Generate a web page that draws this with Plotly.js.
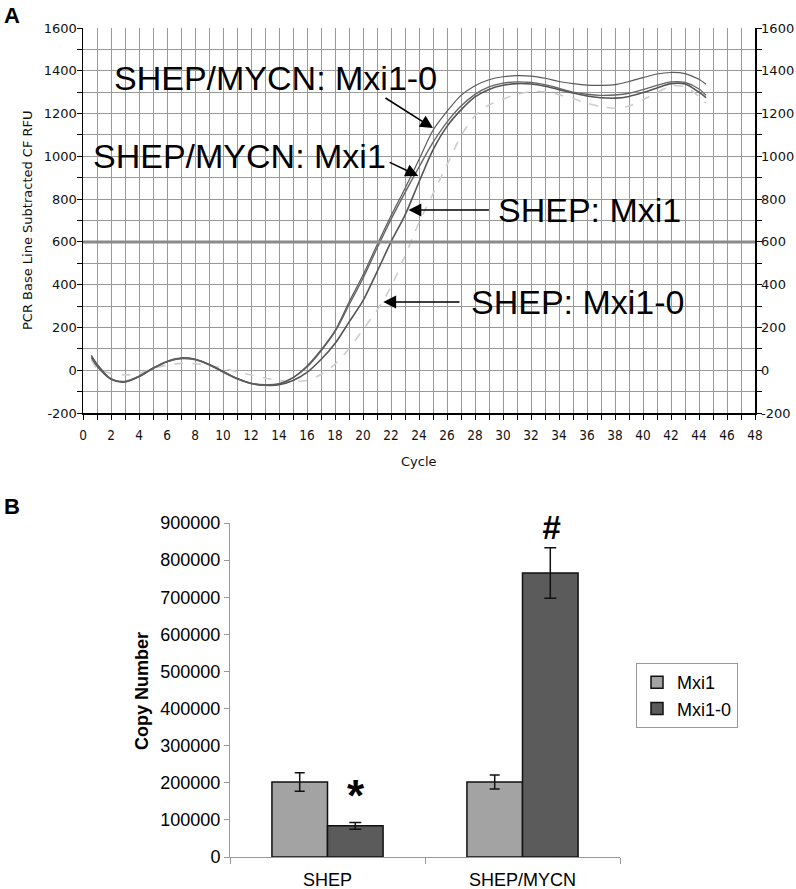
<!DOCTYPE html>
<html>
<head>
<meta charset="utf-8">
<script src="https://cdn.plot.ly/plotly-3.0.1.min.js"></script>
<style>html,body{margin:0;padding:0;background:#fff;}#chart{width:796px;height:889px;}</style>
</head>
<body>
<div id="chart"></div>
<script>
// ---- Panel A data: PCR amplification curves ----
const cycles = [0.6,1,2,3,4,5,6,7,8,9,10,11,12,13,14,15,16,17,18,19,20,21,22,23,24,25,26,27,28,29,30,31,32,33,34,35,36,37,38,39,40,41,42,43,44,44.5];
const mycnMxi10 = [70,30,-40,-55,-30,10,42,58,52,28,-5,-38,-62,-70,-65,-35,20,95,185,318,445,585,722,850,985,1122,1210,1285,1330,1358,1372,1377,1375,1365,1350,1340,1333,1332,1335,1350,1368,1385,1392,1387,1360,1337];
const mycnMxi1  = [65,25,-40,-52,-28,10,40,55,50,27,-5,-38,-60,-68,-63,-35,15,90,180,305,430,570,705,830,950,1065,1160,1235,1290,1325,1342,1348,1345,1335,1318,1300,1290,1285,1287,1295,1312,1332,1348,1345,1315,1285];
const shepMxi1  = [60,20,-42,-55,-30,8,40,55,50,26,-8,-40,-62,-70,-68,-48,-10,50,125,225,325,460,600,725,880,1030,1140,1217,1278,1313,1332,1340,1338,1328,1312,1296,1282,1274,1272,1280,1298,1320,1340,1338,1300,1275];
const shepMxi10 = [50,10,-15,-22,-15,8,24,32,31,23,10,-8,-22,-36,-48,-52,-48,-20,28,100,190,280,390,535,690,825,960,1095,1190,1240,1268,1290,1302,1302,1288,1270,1248,1232,1225,1235,1265,1298,1328,1325,1280,1248];
const threshold = 600;
const cycleRange = [0, 48];
const rfuRange = [-200, 1600];
const rfuTickVals = [-200, 0, 200, 400, 600, 800, 1000, 1200, 1400, 1600];
const rfuTickText = ['-200', '0', '200', '400', '600', '800', '1000', '1200', '1400', '1600'];

// ---- Panel B data: copy numbers ----
const groups = ["SHEP", "SHEP/MYCN"];
const mxi1Copies = [202000, 202000];
const mxi1Err = [25000, 19000];
const mxi10Copies = [84000, 765000];
const mxi10Err = [9000, 68000];

const W = 796, H = 889;
const px = v => v / W;
const py = v => 1 - v / H;

const gridCol = '#9a9a9a';
const tickFontY = {family: 'DejaVu Sans', size: 13, color: '#111'};
const tickFontX = {family: 'DejaVu Sans Condensed, DejaVu Sans', size: 13.5, color: '#111'};

const lineTrace = (y, color, width, dash) => ({
  x: cycles, y: y, type: 'scatter', mode: 'lines', xaxis: 'x', yaxis: 'y',
  line: {color: color, width: width, dash: dash || 'solid', shape: 'spline', smoothing: 0.8},
  showlegend: false, hoverinfo: 'skip'
});

const traces = [
  lineTrace(shepMxi10, '#cdcdcd', 1.6, 'dash'),
  lineTrace(shepMxi1, '#555555', 1.6),
  lineTrace(mycnMxi1, '#666666', 1.4),
  lineTrace(mycnMxi10, '#5a5a5a', 1.2),
  {x: cycleRange, y: [threshold, threshold], type: 'scatter', mode: 'lines', xaxis: 'x', yaxis: 'y3',
   line: {color: '#8c8c8c', width: 3}, showlegend: false, hoverinfo: 'skip'},
  {x: groups, y: mxi1Copies, name: 'Mxi1', type: 'bar', xaxis: 'x2', yaxis: 'y2',
   marker: {color: '#a3a3a3', line: {color: '#111', width: 1.5}},
   error_y: {type: 'data', array: mxi1Err, visible: true, color: '#111', thickness: 1.5, width: 5}},
  {x: groups, y: mxi10Copies, name: 'Mxi1-0', type: 'bar', xaxis: 'x2', yaxis: 'y2',
   marker: {color: '#5b5b5b', line: {color: '#111', width: 1.5}},
   error_y: {type: 'data', array: mxi10Err, visible: true, color: '#111', thickness: 1.5, width: 6}}
];

const bigFont = {family: 'Liberation Sans, Arial', size: 34, color: '#000'};
const arrowStyle = {showarrow: true, arrowhead: 2, arrowsize: 1.6, arrowwidth: 1.6, arrowcolor: '#000',
  xref: 'x', yref: 'y', axref: 'x', ayref: 'y', text: ''};

const annotations = [
  {text: '<b>A</b>', xref: 'paper', yref: 'paper', x: px(2), y: py(15), xanchor: 'left', yanchor: 'middle', showarrow: false,
   font: {family: 'Liberation Sans, Arial', size: 22, color: '#000'}},
  {text: '<b>B</b>', xref: 'paper', yref: 'paper', x: px(2), y: py(506), xanchor: 'left', yanchor: 'middle', showarrow: false,
   font: {family: 'Liberation Sans, Arial', size: 22, color: '#000'}},
  // axis titles panel A
  {text: 'PCR Base Line Subtracted CF RFU', xref: 'paper', yref: 'paper', x: px(27), y: py(220), textangle: -90,
   xanchor: 'center', yanchor: 'middle', showarrow: false, font: {family: 'DejaVu Sans', size: 13, color: '#111'}},
  {text: 'Cycle', xref: 'paper', yref: 'paper', x: px(419), y: py(461), xanchor: 'center', yanchor: 'middle', showarrow: false,
   font: {family: 'DejaVu Sans', size: 13, color: '#111'}},
  // curve labels
  {text: 'SHEP/MYCN: Mxi1-0', xref: 'paper', yref: 'paper', x: px(112), y: py(78), xanchor: 'left', yanchor: 'middle', showarrow: false, font: bigFont},
  {text: 'SHEP/MYCN: Mxi1', xref: 'paper', yref: 'paper', x: px(91), y: py(156), xanchor: 'left', yanchor: 'middle', showarrow: false, font: bigFont},
  {text: 'SHEP: Mxi1', xref: 'paper', yref: 'paper', x: px(496), y: py(210), xanchor: 'left', yanchor: 'middle', showarrow: false, font: bigFont},
  {text: 'SHEP: Mxi1-0', xref: 'paper', yref: 'paper', x: px(469), y: py(302), xanchor: 'left', yanchor: 'middle', showarrow: false, font: bigFont},
  // arrows (head at x,y ; tail at ax,ay)
  Object.assign({x: 25.0, y: 1132, ax: 21.5, ay: 1277}, arrowStyle),
  Object.assign({x: 23.95, y: 908, ax: 21.8, ay: 975}, arrowStyle),
  Object.assign({x: 23.25, y: 749, ax: 29.1, ay: 749}, arrowStyle),
  Object.assign({x: 21.45, y: 319, ax: 27.0, ay: 319}, arrowStyle),
  // panel B
  {text: '<b>Copy Number</b>', xref: 'paper', yref: 'paper', x: px(142), y: py(691), textangle: -90,
   xanchor: 'center', yanchor: 'middle', showarrow: false, font: {family: 'Liberation Sans, Arial', size: 18, color: '#000'}},
  {text: '<b>*</b>', xref: 'paper', yref: 'paper', x: px(356), y: py(795), xanchor: 'center', yanchor: 'middle', showarrow: false,
   font: {family: 'Liberation Sans, Arial', size: 44, color: '#000'}},
  {text: '<b><i>#</i></b>', xref: 'paper', yref: 'paper', x: px(551), y: py(527), xanchor: 'center', yanchor: 'middle', showarrow: false,
   font: {family: 'Liberation Sans, Arial', size: 33, color: '#000'}}
];

const layout = {
  width: W, height: H,
  margin: {l: 0, r: 0, t: 0, b: 0},
  paper_bgcolor: '#fff', plot_bgcolor: '#fff',
  barmode: 'group', bargap: 0.43, bargroupgap: 0,
  showlegend: true,
  legend: {x: px(636), y: py(663), xanchor: 'left', yanchor: 'top', bgcolor: '#fff', bordercolor: '#999', borderwidth: 1,
           font: {family: 'Liberation Sans, Arial', size: 18, color: '#000'}, itemwidth: 30, tracegroupgap: 0},
  xaxis: {domain: [px(83), px(755)], anchor: 'y', range: cycleRange, tick0: 0, dtick: 2,
          ticks: 'outside', ticklen: 5, tickcolor: '#000', tickwidth: 1, ticklabelstandoff: 4,
          showgrid: true, gridcolor: gridCol, gridwidth: 1, zeroline: false,
          showline: true, linecolor: '#000', linewidth: 1.5, tickfont: tickFontX, automargin: false,
          minor: {dtick: 1, tick0: 0, ticks: 'outside', ticklen: 5, tickcolor: '#000', showgrid: true, gridcolor: gridCol, gridwidth: 1}},
  yaxis: {domain: [py(413), py(28)], anchor: 'x', range: rfuRange, tickmode: 'array', tickvals: rfuTickVals, ticktext: rfuTickText,
          ticks: 'outside', ticklen: 5, tickcolor: '#000', ticklabelstandoff: -3,
          showgrid: true, gridcolor: gridCol, gridwidth: 1, zeroline: false,
          showline: true, linecolor: '#000', linewidth: 1.5, tickfont: tickFontY, automargin: false,
          minor: {dtick: 100, tick0: 0, ticks: 'outside', ticklen: 5, tickcolor: '#000', showgrid: true, gridcolor: gridCol, gridwidth: 1}},
  yaxis3: {overlaying: 'y', side: 'right', anchor: 'x', range: rfuRange, tickmode: 'array', tickvals: rfuTickVals, ticktext: rfuTickText,
           ticks: 'outside', ticklen: 5, tickcolor: '#000', showgrid: false, zeroline: false, ticklabelstandoff: -3,
           showline: true, linecolor: '#000', linewidth: 1.5, tickfont: tickFontY, automargin: false,
           minor: {dtick: 100, tick0: 0, ticks: 'outside', ticklen: 5, tickcolor: '#000', showgrid: false}},
  xaxis2: {domain: [px(230), px(620)], anchor: 'y2', type: 'category', range: [-0.5, 1.5],
           tickson: 'boundaries', ticks: 'outside', ticklen: 6, tickcolor: '#999',
           showline: true, linecolor: '#999', linewidth: 1, showgrid: false, zeroline: false,
           ticklabelstandoff: 6, automargin: false,
           tickfont: {family: 'Liberation Sans, Arial', size: 18, color: '#000'}},
  yaxis2: {domain: [py(857), py(523)], anchor: 'x2', range: [0, 900000], dtick: 100000, tickformat: 'd',
           ticks: 'outside', ticklen: 5, tickcolor: '#999', showline: true, linecolor: '#999', linewidth: 1,
           showgrid: false, zeroline: false, automargin: false,
           tickfont: {family: 'Liberation Sans, Arial', size: 18, color: '#000'}},
  annotations: annotations
};

Plotly.newPlot('chart', traces, layout, {staticPlot: true, displayModeBar: false});
</script>
</body>
</html>
